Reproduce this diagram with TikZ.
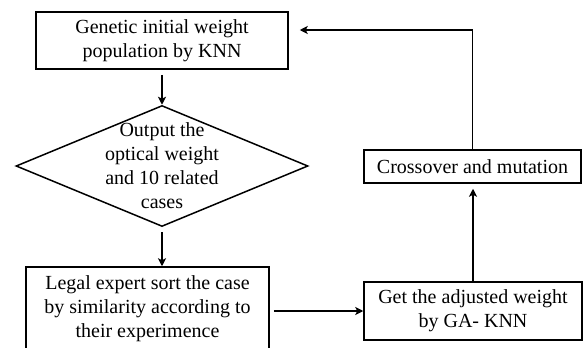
\documentclass[tikz,border=0pt]{standalone}
\usepackage{fontspec}
\setmainfont{Liberation Serif}
\usetikzlibrary{shapes.geometric,arrows.meta}
\begin{document}
\begin{tikzpicture}[x=1pt,y=-1pt,
    font=\fontsize{20}{24}\selectfont,
    box/.style={draw, line width=1.5pt, align=center, inner sep=0pt},
    decision/.style={draw, diamond, line width=1.5pt, inner sep=0pt,
      minimum width=292pt, minimum height=121pt},
    flow/.style={line width=1.5pt, -{Stealth[length=8pt,width=8pt,inset=2pt]}}]
  \useasboundingbox (0,0) rectangle (584,348);

  % Left column
  \node[box, minimum width=252pt, minimum height=57pt] (genetic) at (162,40.5)
    {Genetic initial weight\\population by KNN};
  \node[decision] (output) at (162,166) {};
  \node[align=center] (outtext) at (output.center)
    {Output the\\optical weight\\and 10 related\\cases};
  \node[box, minimum width=243pt, minimum height=84pt] (legal) at (147.5,309)
    {Legal expert sort the case\\by similarity according to\\their experimence};

  % Right column
  \node[box, minimum width=218pt, minimum height=58pt] (adjusted) at (473,311)
    {Get the adjusted weight\\by GA- KNN};
  \node[box, minimum width=217pt, minimum height=33pt] (crossover) at (472.5,166.5)
    {Crossover and mutation};

  % Arrows between the steps
  \draw[flow, shorten <=5pt] (genetic.south) -- (output.north);
  \draw[flow, shorten <=5pt] (output.south) -- (output.south |- legal.north);
  \draw[flow, shorten <=4pt] (legal.east |- adjusted.west) -- (adjusted.west);
  \draw[flow, shorten >=5pt] (adjusted.north) -- (adjusted.north |- crossover.south);

  % Loop back to the first step
  \draw[flow, shorten >=11pt] (crossover.north) |- ([yshift=10.5pt]genetic.east);
\end{tikzpicture}
\end{document}
